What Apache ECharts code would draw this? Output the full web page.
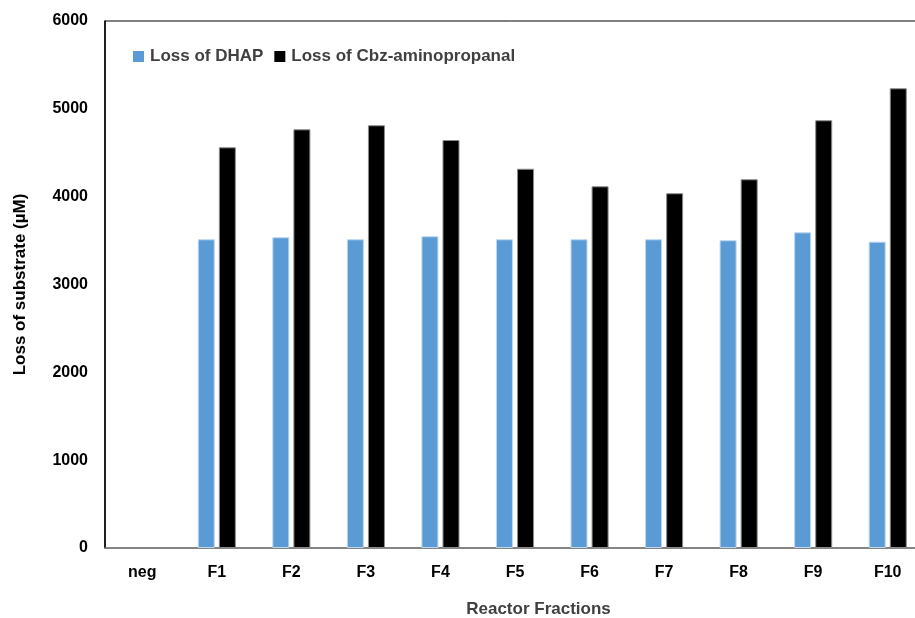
<!DOCTYPE html>
<html>
<head>
<meta charset="utf-8">
<script src="https://cdn.jsdelivr.net/npm/echarts@6/dist/echarts.min.js"></script>
<style>html,body{margin:0;padding:0;background:#fff}#c{width:915px;height:618px}</style>
</head>
<body>
<div id="c"></div>
<script>
const categories = ['neg','F1','F2','F3','F4','F5','F6','F7','F8','F9','F10'];
const dhapLoss = [0, 3515, 3538, 3515, 3549, 3515, 3515, 3515, 3504, 3594, 3488];
const cbzLoss = [0, 4562, 4767, 4813, 4645, 4318, 4118, 4039, 4198, 4870, 5234];
const seriesNames = ['Loss of DHAP', 'Loss of Cbz-aminopropanal'];
const yTicks = {min: 0, max: 6000, interval: 1000};

const FONT = '"Liberation Sans", Arial, sans-serif';
function toItems(arr) {
  return arr.map(v => v === 0 ? {value: v, itemStyle: {borderWidth: 0}} : v);
}
const chart = echarts.init(document.getElementById('c'));
chart.setOption({
  animation: false,
  backgroundColor: '#fff',
  grid: {left: 105, top: 21, right: -10, bottom: 70, outerBoundsMode: 'none', containLabel: false,
         show: true, borderColor: '#000', borderWidth: 1, backgroundColor: 'transparent'},
  legend: {
    left: 128, top: 43, itemWidth: 11, itemHeight: 11, itemGap: 11, icon: 'rect',
    itemStyle: {borderWidth: 0},
    textStyle: {fontFamily: FONT, fontWeight: 'bold', fontSize: 17, color: '#404040', padding: [0,0,0,1]},
    data: seriesNames
  },
  xAxis: {
    type: 'category', data: categories,
    axisLine: {lineStyle: {color: '#868686', width: 1.5}},
    axisTick: {show: false},
    axisLabel: {margin: 17, fontFamily: FONT, fontWeight: 'bold', fontSize: 16, color: '#000'},
    name: 'Reactor Fractions', nameLocation: 'middle', nameGap: 53,
    nameTextStyle: {fontFamily: FONT, fontWeight: 'bold', fontSize: 17, color: '#404040', padding: [0,0,0,47]}
  },
  yAxis: {
    type: 'value', min: yTicks.min, max: yTicks.max, interval: yTicks.interval,
    axisLine: {show: true, lineStyle: {color: '#000', width: 1.5}},
    axisTick: {show: false},
    splitLine: {show: false},
    axisLabel: {margin: 17, fontFamily: FONT, fontWeight: 'bold', fontSize: 16, color: '#000', formatter: v => String(v)},
    name: 'Loss of substrate (\u00b5M)', nameLocation: 'middle', nameGap: 76,
    nameTextStyle: {fontFamily: FONT, fontWeight: 'bold', fontSize: 17, color: '#000'}
  },
  series: [
    {name: seriesNames[0], type: 'bar', data: toItems(dhapLoss), barWidth: 17, barGap: '24%',
     itemStyle: {color: '#5b9bd5', borderColor: '#bdd7ee', borderWidth: 1}},
    {name: seriesNames[1], type: 'bar', data: toItems(cbzLoss), barWidth: 17, barGap: '24%',
     itemStyle: {color: '#000000', borderColor: '#8c8c8c', borderWidth: 1}}
  ]
});
</script>
</body>
</html>
